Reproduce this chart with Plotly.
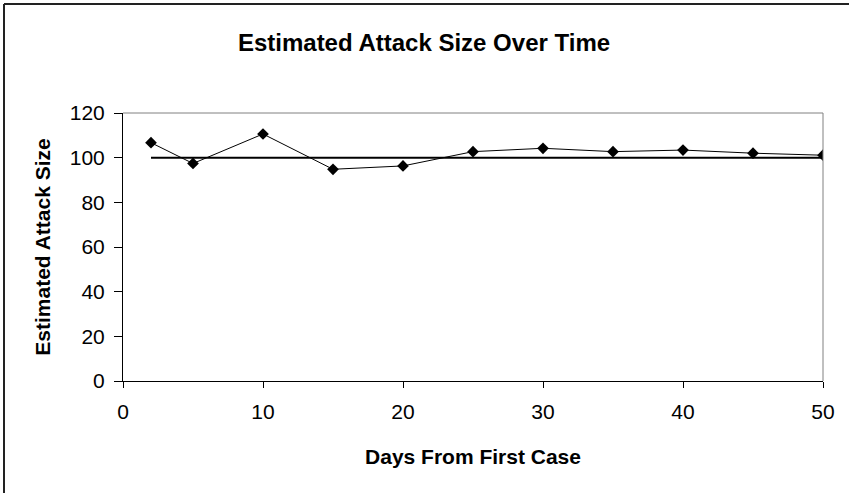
import plotly.graph_objects as go

# Days since the first case and the attack-size estimate made on each day
days = [2, 5, 10, 15, 20, 25, 30, 35, 40, 45, 50]
estimated_size = [106.7, 97.4, 110.6, 94.8, 96.3, 102.7, 104.2, 102.7, 103.4, 102.0, 101.1]

# True attack size, drawn as a flat reference line
true_size = 100
true_span = [2, 50]

x_ticks = [0, 10, 20, 30, 40, 50]
y_ticks = [0, 20, 40, 60, 80, 100, 120]

FONT = "Liberation Sans, Arial, sans-serif"
W, H = 849, 493
L, R, T, B = 123, 26, 113, 112

fig = go.Figure()

fig.add_trace(go.Scatter(
    x=true_span, y=[true_size] * len(true_span),
    mode="lines", line=dict(color="#000000", width=2),
    hoverinfo="skip", showlegend=False,
))

fig.add_trace(go.Scatter(
    x=days, y=estimated_size,
    mode="lines+markers",
    line=dict(color="#000000", width=1),
    marker=dict(symbol="diamond", size=9, color="#000000"),
    showlegend=False,
))

fig.update_layout(
    width=W, height=H,
    margin=dict(l=L, r=R, t=T, b=B, pad=0),
    paper_bgcolor="#ffffff",
    plot_bgcolor="#ffffff",
    font=dict(family=FONT, color="#000000"),
    title=dict(
        text="<b>Estimated Attack Size Over Time</b>",
        font=dict(family=FONT, size=24, color="#000000"),
        x=424 / W, xanchor="center",
        y=1 - 43 / H, yanchor="middle",
    ),
    showlegend=False,
)

fig.update_xaxes(
    range=[0, 50], tickvals=x_ticks,
    showgrid=False, zeroline=False,
    showline=True, linecolor="#000000", linewidth=1,
    ticks="outside", ticklen=6, tickcolor="#000000",
    tickfont=dict(family=FONT, size=21),
    ticklabelstandoff=6,
    title=dict(text="<b>Days From First Case</b>",
               font=dict(family=FONT, size=21), standoff=27),
    mirror=False,
)
fig.update_yaxes(
    range=[0, 120], tickvals=y_ticks,
    showgrid=False, zeroline=False,
    showline=True, linecolor="#000000", linewidth=1,
    ticks="outside", ticklen=8, tickcolor="#000000",
    tickfont=dict(family=FONT, size=21),
    ticklabelstandoff=5,
    title=dict(text="<b>Estimated Attack Size</b>",
               font=dict(family=FONT, size=21), standoff=13),
    mirror=False,
)

# Grey frame on the top and right of the plot area
fig.add_shape(type="line", xref="paper", yref="paper", x0=0, x1=1, y0=1, y1=1,
              line=dict(color="#808080", width=1))
fig.add_shape(type="line", xref="paper", yref="paper", x0=1, x1=1, y0=0, y1=1,
              line=dict(color="#808080", width=1))

# Chart-area border along the left and top edges
fig.add_shape(type="line", xref="paper", yref="paper",
              x0=-(L - 4) / (W - L - R), x1=(W - L) / (W - L - R),
              y0=1 + (T - 4) / (H - T - B), y1=1 + (T - 4) / (H - T - B),
              line=dict(color="#222222", width=2))
fig.add_shape(type="line", xref="paper", yref="paper",
              x0=-(L - 4) / (W - L - R), x1=-(L - 4) / (W - L - R),
              y0=-B / (H - T - B), y1=1 + (T - 4) / (H - T - B),
              line=dict(color="#222222", width=2))

fig.write_html("out.html")
